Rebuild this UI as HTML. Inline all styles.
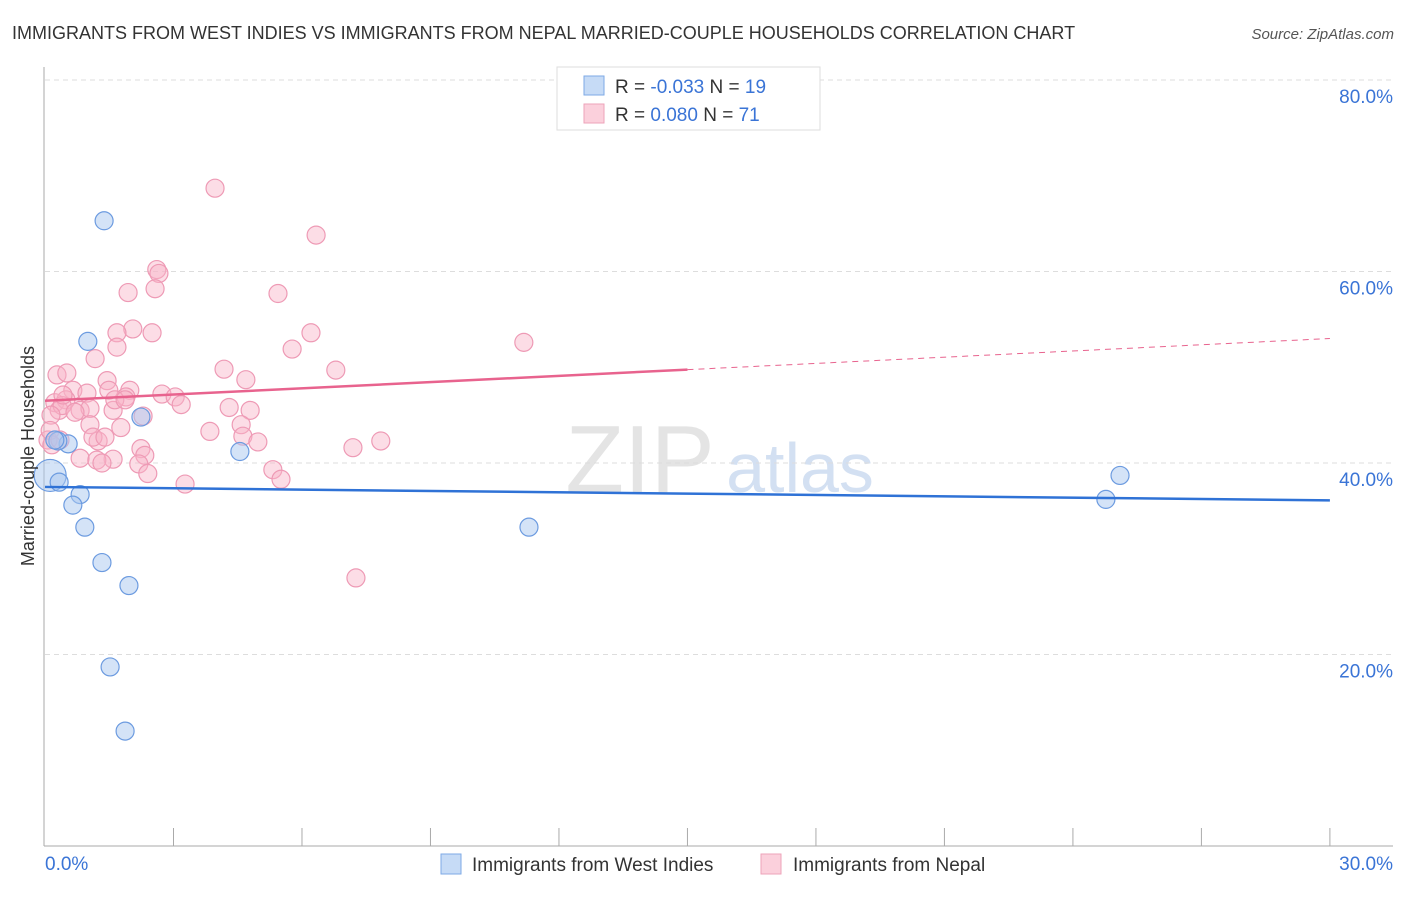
<!DOCTYPE html>
<html><head><meta charset="utf-8"><style>
body{margin:0;background:#fff;font-family:"Liberation Sans",sans-serif}
svg text{font-family:"Liberation Sans",sans-serif}
</style></head><body>
<svg id="c" width="1406" height="892" xmlns="http://www.w3.org/2000/svg">
<text x="12" y="39" font-size="18" fill="#333">IMMIGRANTS FROM WEST INDIES VS IMMIGRANTS FROM NEPAL MARRIED-COUPLE HOUSEHOLDS CORRELATION CHART</text>
<text x="1394" y="39" font-size="15" fill="#555" text-anchor="end" font-style="italic">Source: ZipAtlas.com</text>
<text x="640" y="492" font-size="96" fill="#e4e4e4" font-family="Liberation Serif" text-anchor="middle">ZIP</text>
<text x="800" y="492" font-size="70" fill="#d3e0f2" text-anchor="middle">atlas</text>
<g id="grid"></g><g id="axes"></g><g id="marks"></g>
<text transform="translate(34,456) rotate(-90)" font-size="18" fill="#333" text-anchor="middle">Married-couple Households</text>
<g>
<rect x="557" y="67" width="263" height="63" fill="#fff" stroke="#ddd"/>
<rect x="584" y="76" width="20" height="19" fill="#c6dbf6" stroke="#7eaae6"/>
<rect x="584" y="104" width="20" height="19" fill="#fbd0dc" stroke="#eea3ba"/>
<text x="615" y="93" font-size="19" fill="#333">R = <tspan fill="#3a74d6">-0.033</tspan>   N = <tspan fill="#3a74d6">19</tspan></text>
<text x="615" y="121" font-size="19" fill="#333">R =  <tspan fill="#3a74d6"> 0.080</tspan>   N = <tspan fill="#3a74d6">71</tspan></text>
</g>
<g>
<rect x="441" y="854" width="20" height="20" fill="#c6dbf6" stroke="#7eaae6"/>
<text x="472" y="871" font-size="19" fill="#333">Immigrants from West Indies</text>
<rect x="761" y="854" width="20" height="20" fill="#fbd0dc" stroke="#eea3ba"/>
<text x="793" y="871" font-size="19" fill="#333">Immigrants from Nepal</text>
</g>
</svg>
<script>
const yTicks=[20,40,60,80];
const yTickLabels=["20.0%","40.0%","60.0%","80.0%"];
const xTickLabels=["0.0%","30.0%"];
const blueX=[1.38,1.00,2.24,4.55,0.54,0.30,0.12,0.33,0.82,0.65,0.93,1.33,1.96,1.52,1.87,11.3,24.77,25.1,0.23];
const blueY=[65.3,52.7,44.8,41.2,42.0,42.3,38.7,38.0,36.7,35.6,33.3,29.6,27.2,18.7,12.0,33.3,36.2,38.7,42.4];
const pinkPx=[[215,188],[316,235],[157,270],[159,273],[128,293],[155,289],[278,294],[311,333],[152,333],[133,329],[117,333],[117,347],[292,349],[524,342],[95,359],[224,369],[336,370],[57,375],[67,373],[246,380],[107,381],[130,390],[109,390],[73,390],[87,393],[162,394],[175,397],[126,397],[55,403],[66,400],[80,410],[113,410],[181,405],[229,407],[250,410],[143,416],[59,410],[62,406],[90,408],[75,412],[51,415],[121,428],[90,425],[210,431],[241,425],[243,436],[98,441],[93,437],[258,442],[105,437],[381,441],[353,448],[141,449],[145,455],[113,459],[80,458],[97,460],[102,463],[139,464],[148,474],[273,470],[281,479],[185,484],[356,578],[48,440],[50,430],[52,445],[63,395],[115,400],[125,400],[60,440]];
const pinkX=pinkPx.map(p=>+((p[0]-45)/42.83).toFixed(2));
const pinkY=pinkPx.map(p=>+((846-p[1])/9.575).toFixed(1));
const blueTrend=[37.5,36.1];
const pinkTrend=[46.5,53.0];
const X=v=>45+v*42.83, Y=v=>846-v*9.575;
const NS="http://www.w3.org/2000/svg";
function mk(t,a,p){const e=document.createElementNS(NS,t);for(const k in a)e.setAttribute(k,a[k]);p.appendChild(e);return e;}
const grid=document.getElementById('grid'),axes=document.getElementById('axes'),marks=document.getElementById('marks');
yTicks.forEach((v,i)=>{
 const l=mk('line',{x1:45,x2:1393,y1:Y(v),y2:Y(v),stroke:'#ddd','stroke-dasharray':'5,4'},grid);
 
 
 const t=mk('text',{x:1393,y:Y(v)+23,'font-size':19,fill:'#3a74d6','text-anchor':'end'},axes);t.textContent=yTickLabels[i];
 
 
});
mk('line',{x1:44,x2:44,y1:67,y2:846,stroke:'#aaa'},axes);
mk('line',{x1:44,x2:1393,y1:846,y2:846,stroke:'#aaa'},axes);
for(let i=1;i<=10;i++){mk('line',{x1:X(i*3),x2:X(i*3),y1:828,y2:846,stroke:'#aaa'},axes);}
let t0=mk('text',{x:45,y:870,'font-size':19,fill:'#3a74d6'},axes);t0.textContent=xTickLabels[0];


let t1=mk('text',{x:1393,y:870,'font-size':19,fill:'#3a74d6','text-anchor':'end'},axes);t1.textContent=xTickLabels[1];


pinkX.forEach((x,i)=>{
 const c=mk('circle',{cx:X(x),cy:Y(pinkY[i]),r:9,fill:'rgba(248,180,200,0.45)',stroke:'#ee9ab5','stroke-width':1.2},marks);
 
 
});
blueX.forEach((x,i)=>{
 const c=mk('circle',{cx:X(x),cy:Y(blueY[i]),r:i==6?16:9,fill:'rgba(170,200,240,0.5)',stroke:'#6c9be0','stroke-width':1.2},marks);
 
 
});
const pm=(pinkTrend[0]+pinkTrend[1])/2;
let pl=mk('line',{x1:X(0),y1:Y(pinkTrend[0]),x2:X(15),y2:Y(pm),stroke:'#e8638e','stroke-width':2.5},marks);


let pd=mk('line',{x1:X(15),y1:Y(pm),x2:X(30),y2:Y(pinkTrend[1]),stroke:'#e8638e','stroke-width':1,'stroke-dasharray':'6,5'},marks);


let bl=mk('line',{x1:X(0),y1:Y(blueTrend[0]),x2:X(30),y2:Y(blueTrend[1]),stroke:'#2f72d6','stroke-width':2.5},marks);


</script>
</body></html>
